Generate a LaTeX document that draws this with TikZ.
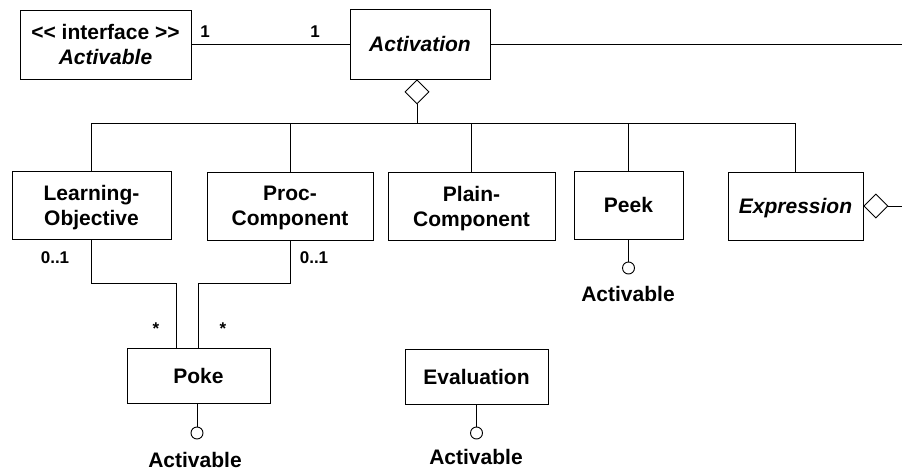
\documentclass[tikz,border=0pt]{standalone}
\usepackage{fontspec}
\setmainfont{Liberation Sans}
\usetikzlibrary{arrows.meta,shapes.geometric}
\begin{document}
\begin{tikzpicture}[x=1pt,y=-1pt,
  every node/.style={font=\bfseries\fontsize{21}{25}\selectfont},
  box/.style={draw, line width=0.9pt, inner sep=0pt, align=center},
  ln/.style={line width=0.9pt},
  mult/.style={font=\bfseries\fontsize{17}{20}\selectfont, inner sep=0pt},
  lbl/.style={inner sep=0pt},
  lolly/.style={circle, draw, line width=0.9pt, minimum size=12pt, inner sep=0pt, fill=white},
  agg/.style={ln, {Diamond[open,length=25pt,width=25pt]}-}]
\useasboundingbox (0,0) rectangle (902,471);
% classes
\node[box, minimum width=171pt, minimum height=69pt] (iface) at (105.5,44.5) {<\kern0pt< interface >\kern0pt>\\\textit{Activable}};
\node[box, minimum width=140pt, minimum height=70pt] (act) at (420,44) {\textit{Activation}};
\node[box, minimum width=159pt, minimum height=68pt] (lo) at (91.5,205) {Learning-\\\smash{Objective}};
\node[box, minimum width=166pt, minimum height=68pt] (pc) at (290,206) {Proc-\\\smash{Component}};
\node[box, minimum width=167pt, minimum height=68pt] (plc) at (471.5,206) {Plain-\\\smash{Component}};
\node[box, minimum width=109pt, minimum height=68pt] (peek) at (628.5,205) {Peek};
\node[box, minimum width=135pt, minimum height=68pt, text depth=0pt] (expr) at (795.5,206) {\textit{Expression}};
\node[box, minimum width=143pt, minimum height=55pt] (poke) at (198.5,375.5) {Poke};
\node[box, minimum width=143pt, minimum height=55pt] (eval) at (476.5,376.5) {Evaluation};
% free ends and junctions
\coordinate (aend) at (902,44);
\coordinate (eend) at (902,206);
\coordinate (j) at (417,123);
\coordinate (lvl) at (0,283);
% association interface - activation
\draw[ln] (act.west -| iface.east) -- (act.west);
\draw[ln] (act.east) -- (aend);
\node[mult] (m1) at (205,32) {1};
\node[mult] (m2) at (315,32) {1};
% aggregation tree
\draw[agg] (j |- act.south) -- (j);
\draw[ln] (j) -| (lo.north);
\draw[ln] (j) -| (pc.north);
\draw[ln] (j) -| (plc.north);
\draw[ln] (j) -| (peek.north);
\draw[ln] (j) -| (expr.north);
% expression aggregation
\draw[agg] (expr.east) -- (eend);
% poke associations
\draw[ln] (lo.south) -- (lo.south |- lvl) -| ([xshift=-22pt]poke.north);
\draw[ln] (pc.south) -- (pc.south |- lvl) -| (poke.north);
\node[mult] (m3) at (55,258) {0..1};
\node[mult] (m4) at (314,258) {0..1};
\node[mult] (m5) at (156,329) {*};
\node[mult] (m6) at (223,329) {*};
% lollipops
\node[lolly] (c1) at (628.5,268) {};
\draw[ln] (peek.south) -- (c1.north);
\node[lbl] (t1) at (628,294) {Activable};
\node[lolly] (c2) at (197,433) {};
\draw[ln] (c2.north |- poke.south) -- (c2.north);
\node[lbl] (t2) at (195,460) {Activable};
\node[lolly] (c3) at (476.5,433) {};
\draw[ln] (eval.south) -- (c3.north);
\node[lbl] (t3) at (476,457) {Activable};
\end{tikzpicture}
\end{document}
